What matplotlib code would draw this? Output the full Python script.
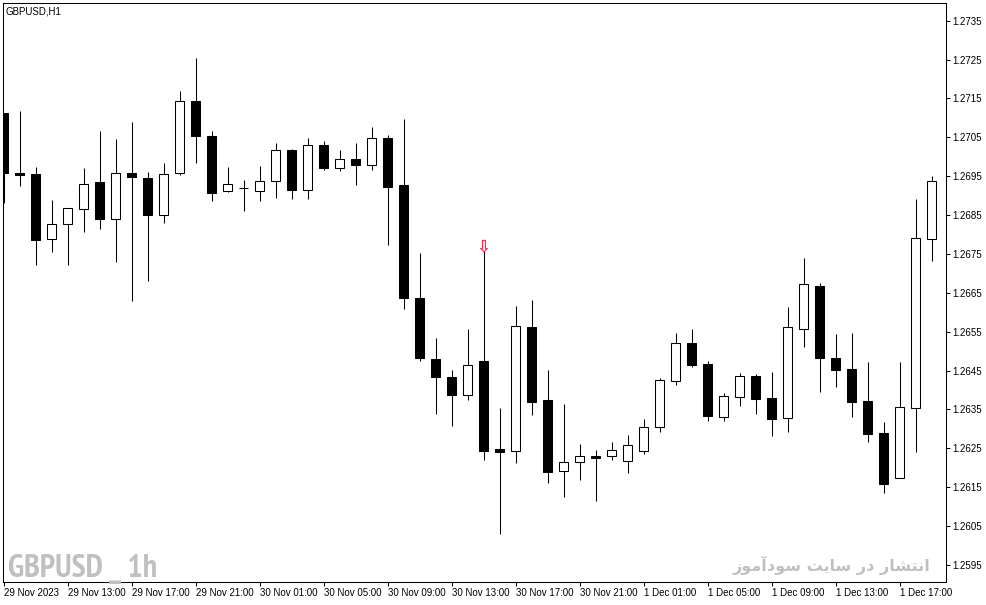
import matplotlib
matplotlib.use('Agg')
import matplotlib.pyplot as plt
from matplotlib import rcParams
from matplotlib import font_manager as fm

rcParams['font.family'] = ['Liberation Sans', 'DejaVu Sans']

# GBPUSD H1, 29 Nov 2023 09:00 -> 1 Dec 2023 19:00
opens = [1.27112, 1.26957, 1.26956, 1.26788, 1.26826, 1.26866, 1.26935, 1.26841, 1.26957, 1.26945,
         1.26851, 1.26957, 1.27143, 1.27053, 1.26911, 1.26919, 1.26911, 1.26937, 1.27017, 1.26915,
         1.27030, 1.26972, 1.26994, 1.26979, 1.27049, 1.26927, 1.26636, 1.26480, 1.26434, 1.26388,
         1.26474, 1.26247, 1.26242, 1.26561, 1.26373, 1.26191, 1.26214, 1.26229, 1.26229, 1.26216,
         1.26242, 1.26304, 1.26422, 1.26521, 1.26467, 1.26331, 1.26383, 1.26436, 1.26378, 1.26327,
         1.26556, 1.26667, 1.26482, 1.26454, 1.26372, 1.26289, 1.26174, 1.26354, 1.26789]
highs = [1.27113, 1.27118, 1.26974, 1.26889, 1.26868, 1.26971, 1.27066, 1.27046, 1.27089, 1.26960,
         1.26983, 1.27168, 1.27253, 1.27066, 1.26974, 1.26940, 1.26976, 1.27036, 1.27020, 1.27048,
         1.27041, 1.27017, 1.27036, 1.27077, 1.27056, 1.27097, 1.26752, 1.26534, 1.26451, 1.26557,
         1.26758, 1.26353, 1.26616, 1.26631, 1.26451, 1.26364, 1.26261, 1.26245, 1.26266, 1.26284,
         1.26325, 1.26430, 1.26547, 1.26556, 1.26474, 1.26391, 1.26443, 1.26440, 1.26446, 1.26613,
         1.26740, 1.26674, 1.26544, 1.26547, 1.26472, 1.26318, 1.26472, 1.26891, 1.26950]
lows = [1.26882, 1.26925, 1.26722, 1.26756, 1.26722, 1.26807, 1.26814, 1.26730, 1.26630, 1.26681,
        1.26830, 1.26954, 1.26985, 1.26887, 1.26910, 1.26861, 1.26887, 1.26895, 1.26891, 1.26891,
        1.26966, 1.26964, 1.26927, 1.26966, 1.26773, 1.26608, 1.26475, 1.26339, 1.26308, 1.26375,
        1.26220, 1.26029, 1.26213, 1.26336, 1.26161, 1.26124, 1.26167, 1.26115, 1.26220, 1.26187,
        1.26234, 1.26293, 1.26414, 1.26460, 1.26321, 1.26321, 1.26359, 1.26338, 1.26282, 1.26293,
        1.26511, 1.26395, 1.26408, 1.26331, 1.26267, 1.26134, 1.26174, 1.26241, 1.26733]
closes = [1.26959, 1.26954, 1.26786, 1.26827, 1.26867, 1.26929, 1.26841, 1.26957, 1.26949, 1.26851,
          1.26956, 1.27143, 1.27054, 1.26908, 1.26929, 1.26919, 1.26938, 1.27017, 1.26915, 1.27030,
          1.26972, 1.26993, 1.26978, 1.27048, 1.26922, 1.26637, 1.26481, 1.26433, 1.26388, 1.26463,
          1.26244, 1.26240, 1.26564, 1.26370, 1.26190, 1.26214, 1.26229, 1.26226, 1.26245, 1.26258,
          1.26304, 1.26425, 1.26520, 1.26465, 1.26334, 1.26384, 1.26435, 1.26377, 1.26326, 1.26561,
          1.26672, 1.26481, 1.26452, 1.26370, 1.26287, 1.26159, 1.26355, 1.26790, 1.26937]

time_ticks = [0, 4, 8, 12, 16, 20, 24, 28, 32, 36, 40, 44, 48, 52, 56]
time_labels = ['29 Nov 2023', '29 Nov 13:00', '29 Nov 17:00', '29 Nov 21:00', '30 Nov 01:00',
               '30 Nov 05:00', '30 Nov 09:00', '30 Nov 13:00', '30 Nov 17:00', '30 Nov 21:00',
               '1 Dec 01:00', '1 Dec 05:00', '1 Dec 09:00', '1 Dec 13:00', '1 Dec 17:00']
price_ticks = [1.2595, 1.2605, 1.2615, 1.2625, 1.2635, 1.2645, 1.2655, 1.2665,
               1.2675, 1.2685, 1.2695, 1.2705, 1.2715, 1.2725, 1.2735]
signal_bar = 30


def narrow_bold_font():
    # look for any installed condensed bold face for the big watermark
    rank = {'ultra-condensed': 0, 'extra-condensed': 1, 'condensed': 2, 'semi-condensed': 3}
    found = []
    for f in fm.fontManager.ttflist:
        w = f.weight
        bold = (isinstance(w, int) and w >= 600) or (isinstance(w, str) and
                                                      ('bold' in w.lower() or w in ('heavy', 'black')))
        st = f.stretch if isinstance(f.stretch, str) else ''
        if bold and 'narrow' in f.name.lower():
            found.append((1.5, f.fname))
        elif bold and st in rank:
            found.append((rank[st], f.fname))
    if not found:
        return None
    found.sort()
    return fm.FontProperties(fname=found[0][1])


W, H = 987, 605
fig = plt.figure(figsize=(W / 100, H / 100), dpi=100)
ax = fig.add_axes([2.7 / W, 1 - 581.7 / H, 943 / W, 579 / H])

idx = list(range(len(opens)))
ax.vlines(idx, lows, highs, color='black', linewidth=0.75, zorder=1)
bottoms = [min(o, c) for o, c in zip(opens, closes)]
heights = [abs(c - o) for o, c in zip(opens, closes)]
faces = ['white' if c >= o else 'black' for o, c in zip(opens, closes)]
ax.bar(idx, heights, bottom=bottoms, width=0.5625, color=faces,
       edgecolor='black', linewidth=0.75, zorder=2)

# sell arrow above the spike high
ax.annotate('\u21E9', xy=(signal_bar, highs[signal_bar]), xytext=(0, -3),
            textcoords='offset points', ha='center', va='bottom',
            color='#ff2a4a', fontsize=12, fontweight='bold', family='DejaVu Sans', zorder=3)

ax.set_xlim(-0.0625, 58.875)
ax.set_ylim(1.259066, 1.273964)

ax.yaxis.tick_right()
ax.set_yticks(price_ticks)
ax.set_yticklabels(['%.4f' % p for p in price_ticks])
ax.set_xticks(time_ticks)
ax.set_xticklabels(time_labels)
for lbl in ax.get_xticklabels():
    lbl.set_horizontalalignment('left')
ax.tick_params(axis='both', direction='out', length=3, width=0.75, labelsize=7, pad=1.5)
for s in ax.spines.values():
    s.set_linewidth(0.75)

fig.text(6 / W, 1 - 11 / H, 'GBPUSD,H1', fontsize=7, va='center')

narrow = narrow_bold_font()
if narrow is not None:
    narrow.set_size(23)
    fig.text(8 / W, 1 - 577 / H, 'GBPUSD _ 1h', fontproperties=narrow,
             color='#c0c0c0', va='baseline')
else:
    fig.text(8 / W, 1 - 577 / H, 'GBPUSD _ 1h', fontsize=14.5, fontweight='bold',
             color='#c0c0c0', va='baseline', family='DejaVu Sans')

# Persian watermark, written in presentation forms (visual order)
w1 = '\uFE8D\uFEE7\uFE98\uFEB8\uFE8E\uFEAD'          # انتشار
w2 = '\uFEA9\uFEAD'                                  # در
w3 = '\uFEB3\uFE8E\uFEF3\uFE96'                      # سایت
w4 = '\uFEB3\uFEEE\uFEA9\uFE81\uFEE3\uFEEE\uFEAF'    # سودآموز
site_text = ' '.join([w1, w2, w3, w4])[::-1]
fig.text(930 / W, 1 - 571 / H, site_text, fontsize=11.5, fontweight='bold', color='#c0c0c0',
         ha='right', va='baseline', family='DejaVu Sans')

plt.savefig('out.png', dpi=100)
plt.close()
